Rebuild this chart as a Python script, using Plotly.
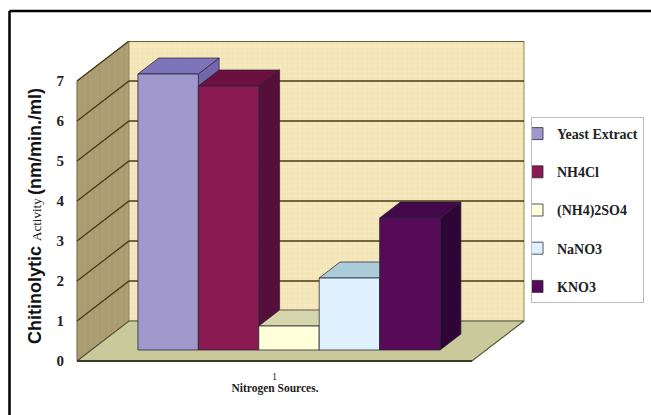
import plotly.graph_objects as go

# Data
series_names = ["Yeast Extract", "NH4Cl", "(NH4)2SO4", "NaNO3", "KNO3"]
series_values = [6.9, 6.6, 0.6, 1.8, 3.3]
y_ticks = [0, 1, 2, 3, 4, 5, 6, 7]
x_tick_labels = ["1"]

# Styles
front_colors = ["#A097CB", "#8A1A52", "#FFFFDA", "#DFF1FF", "#560A58"]
top_colors = ["#7D75B8", "#6C1040", "#D6D6AC", "#ABCBD8", "#43084A"]
side_colors = ["#7068AA", "#560F3A", "#B8B88C", "#9DB8C6", "#2E0536"]

W, H = 651, 415
# oblique projection: one unit of depth shifts this far in x and in value units
DX, DY = 52 / 395, 1.0
FRONT_D, BACK_D = 0.275, 0.675
GROUP_LEFT, BAR_W = 0.118, 0.153
Y_TOP = 7.0


def proj(x, v, d):
    return x + d * DX, v + d * DY


def poly(points):
    xs, ys = zip(*points)
    return list(xs) + [xs[0]], list(ys) + [ys[0]]


fig = go.Figure()
common = dict(mode="lines", showlegend=False, hoverinfo="skip")

# left wall
x, y = poly([proj(0, 0, 0), proj(0, Y_TOP, 0), proj(0, Y_TOP, 1), proj(0, 0, 1)])
fig.add_trace(go.Scatter(x=x, y=y, fill="toself", line=dict(color="#6E5F3C", width=1),
                         fillpattern=dict(shape="|", size=6, solidity=0.2, fgcolor="#A09068", bgcolor="#AE9E74"),
                         **common))
# back wall
x, y = poly([proj(0, 0, 1), proj(0, Y_TOP, 1), proj(1, Y_TOP, 1), proj(1, 0, 1)])
fig.add_trace(go.Scatter(x=x, y=y, fill="toself", line=dict(color="#A89A72", width=1.2),
                         fillpattern=dict(shape="+", size=5, solidity=0.25, fgcolor="#EBDAA4", bgcolor="#F5E8BC"),
                         **common))
# floor
x, y = poly([proj(0, 0, 0), proj(1, 0, 0), proj(1, 0, 1), proj(0, 0, 1)])
fig.add_trace(go.Scatter(x=x, y=y, fill="toself", fillcolor="#C9C99B",
                         line=dict(color="#55553F", width=1.2), **common))
# front floor edge
x = [proj(0, 0, 0)[0], proj(1, 0, 0)[0]]
fig.add_trace(go.Scatter(x=x, y=[0, 0], line=dict(color="#3A3A28", width=2), **common))

# grid lines on left and back walls
gx, gy = [], []
for t in y_ticks[1:]:
    for p in (proj(0, t, 0), proj(0, t, 1), proj(1, t, 1)):
        gx.append(p[0])
        gy.append(p[1])
    gx.append(None)
    gy.append(None)
fig.add_trace(go.Scatter(x=gx, y=gy, line=dict(color="#4A3A18", width=1.3), **common))

# bar top and side faces (fronts go on the overlay axes)
for i, v in enumerate(series_values):
    xl = GROUP_LEFT + i * BAR_W
    xr = xl + BAR_W
    x, y = poly([proj(xr, 0, FRONT_D), proj(xr, v, FRONT_D), proj(xr, v, BACK_D), proj(xr, 0, BACK_D)])
    fig.add_trace(go.Scatter(x=x, y=y, fill="toself", fillcolor=side_colors[i],
                             line=dict(color="#2A1A30", width=0.7), **common))
    x, y = poly([proj(xl, v, FRONT_D), proj(xr, v, FRONT_D), proj(xr, v, BACK_D), proj(xl, v, BACK_D)])
    fig.add_trace(go.Scatter(x=x, y=y, fill="toself", fillcolor=top_colors[i],
                             line=dict(color="#2A1A30", width=0.7), **common))

# bar fronts
for i, (name, v) in enumerate(zip(series_names, series_values)):
    xc = GROUP_LEFT + (i + 0.5) * BAR_W + FRONT_D * DX
    fig.add_trace(go.Bar(x=[xc], y=[v], base=[FRONT_D * DY], width=[BAR_W], name=name,
                         legendgroup=name, xaxis="x2", yaxis="y2",
                         marker=dict(color=front_colors[i], line=dict(color="#2A2A3A", width=0.8)),
                         hoverinfo="skip"))

x_range = [-52 / 395, 448 / 395]
y_range = [-0.75, 8]
serif = "Liberation Serif"
sans = "Liberation Sans"
y_title = (f'<span style="font-family:{sans};font-weight:bold;font-size:18px">Chitinolytic </span>'
           f'<span style="font-family:{serif};font-size:13px">Activity </span>'
           f'<span style="font-family:{sans};font-weight:bold;font-size:18px">(nm/min./ml)</span>')

fig.update_layout(
    width=W, height=H, margin=dict(l=0, r=0, t=0, b=0),
    paper_bgcolor="white", plot_bgcolor="rgba(0,0,0,0)",
    barmode="overlay",
    xaxis=dict(domain=[25 / W, 525 / W], range=x_range, anchor="free", position=(H - 361) / H,
               tickmode="array", tickvals=[0.5], ticktext=x_tick_labels,
               ticks="outside", ticklen=6, tickcolor="rgba(0,0,0,0)",
               tickfont=dict(family=serif, size=10, color="#222"),
               showgrid=False, zeroline=False, showline=False,
               title=dict(text="<b>Nitrogen Sources.</b>", standoff=2,
                          font=dict(family=serif, size=11.5, color="#222"))),
    yaxis=dict(domain=[24 / H, 374 / H], range=y_range, anchor="free", position=77 / W,
               tickmode="array", tickvals=y_ticks, ticks="outside", ticklen=10, tickcolor="rgba(0,0,0,0)",
               tickfont=dict(family=serif, size=15, color="#222", weight="bold"),
               showgrid=False, zeroline=False, showline=False,
               title=dict(text=y_title, standoff=9, font=dict(color="#111", size=18))),
    xaxis2=dict(domain=[25 / W, 525 / W], range=x_range, overlaying="x", anchor="y2", visible=False),
    yaxis2=dict(domain=[24 / H, 374 / H], range=y_range, overlaying="y", anchor="x2", visible=False),
    legend=dict(x=531 / W, y=1 - 117 / H, xanchor="left", yanchor="top", traceorder="grouped",
                indentation=-15, tracegroupgap=17, itemclick=False, itemdoubleclick=False,
                bordercolor="#BDBDBD", borderwidth=1, bgcolor="white",
                font=dict(family=serif, size=14, color="#222", weight="bold")),
    shapes=[dict(type="line", xref="paper", yref="paper", x0=9.5 / W, x1=9.5 / W,
                 y0=0, y1=1 - 11 / H, line=dict(color="black", width=2.5)),
            dict(type="line", xref="paper", yref="paper", x0=9.5 / W, x1=1,
                 y0=1 - 11 / H, y1=1 - 11 / H, line=dict(color="black", width=2.5))],
)

fig.write_html("out.html", config=dict(displayModeBar=False),
               post_script="document.body.style.margin='0';document.body.style.overflow='hidden';")
